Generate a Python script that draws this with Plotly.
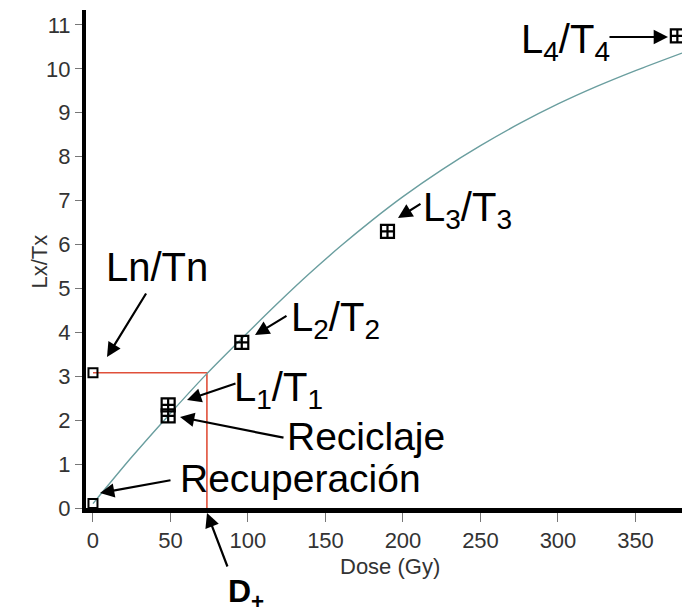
import plotly.graph_objects as go

# ---------------- data ----------------
curve_dose = [0, 25, 48, 73.5, 96, 120, 140, 160, 180, 200, 225, 250, 275, 300, 325, 350, 380]
curve_lxtx = [0.10, 1.16, 2.08, 3.06, 3.86, 4.69, 5.35, 5.97, 6.55, 7.09, 7.70, 8.25, 8.75, 9.20, 9.60, 9.96, 10.36]

regen_names = ["L1/T1", "Reciclaje", "L2/T2", "L3/T3", "L4/T4"]
regen_dose = [48.5, 48.5, 96, 190, 377]
regen_lxtx = [2.35, 2.10, 3.77, 6.30, 10.75]

small_names = ["Ln/Tn", "Recuperación"]
small_dose = [0, 0]
small_lxtx = [3.08, 0.10]

natural_lxtx = 3.08
equiv_dose = 73.5

x_ticks = [0, 50, 100, 150, 200, 250, 300, 350]
y_ticks = list(range(0, 12))

# ---------------- layout geometry ----------------
W, H = 682, 615
L, R, T, B = 86, 0, 10, 107
PW, PH = W - L - R, H - T - B


def pp(px, py):
    """pixel -> paper coords"""
    return (px - L) / PW, (H - B - py) / PH


fig = go.Figure()

# red construction lines (Ln/Tn -> curve -> dose axis)
fig.add_trace(go.Scatter(
    x=[small_dose[0], equiv_dose, equiv_dose],
    y=[natural_lxtx, natural_lxtx, 0],
    mode="lines", line=dict(color="#e0503a", width=1.6),
    hoverinfo="skip", showlegend=False, cliponaxis=False))

# fitted growth curve
fig.add_trace(go.Scatter(
    x=curve_dose, y=curve_lxtx, mode="lines",
    line=dict(color="#6a9e9f", width=1.4, shape="spline", smoothing=0.8),
    showlegend=False))

# regenerated points
fig.add_trace(go.Scatter(
    x=regen_dose, y=regen_lxtx, mode="markers", text=regen_names,
    marker=dict(symbol="square-cross-open", size=13, color="black",
                line=dict(color="black", width=2.2)),
    showlegend=False, cliponaxis=False))

# natural and recuperation points
fig.add_trace(go.Scatter(
    x=small_dose, y=small_lxtx, mode="markers", text=small_names,
    marker=dict(symbol="square-open", size=9, color="black",
                line=dict(color="black", width=2)),
    showlegend=False, cliponaxis=False))

FONT = "Liberation Sans, Arial, Helvetica, sans-serif"
annotations = []

# text labels
labels = [
    ("Ln/Tn", 157, 267, 40),
    ("L<sub>4</sub>/T<sub>4</sub>", 565, 42, 40),
    ("L<sub>3</sub>/T<sub>3</sub>", 467, 210, 40),
    ("L<sub>2</sub>/T<sub>2</sub>", 335, 320, 40),
    ("L<sub>1</sub>/T<sub>1</sub>", 278, 390, 40),
    ("Reciclaje", 366, 436, 39),
    ("Recuperación", 300, 478, 39),
]
for txt, px, py, sz in labels:
    xp, yp = pp(px, py)
    annotations.append(dict(text=txt, x=xp, y=yp, xref="paper", yref="paper",
                            showarrow=False, xanchor="center", yanchor="middle",
                            font=dict(family=FONT, size=sz, color="black")))

# D+ label
xp, yp = pp(246, 593)
annotations.append(dict(text="<b>D<sub>+</sub></b>", x=xp, y=yp, xref="paper", yref="paper",
                        showarrow=False, xanchor="center", yanchor="middle",
                        font=dict(family=FONT, size=32, color="black")))

# arrows: (head px, head py, tail px, tail py)
arrows = [
    (107, 357, 147, 292),
    (668, 37, 608, 37),
    (398, 218, 422, 203),
    (255, 335, 288, 315),
    (187, 400, 237, 383),
    (180, 417, 285, 438),
    (100, 493, 172, 480),
    (207, 513, 228, 568),
]
for hx, hy, tx, ty in arrows:
    xp, yp = pp(hx, hy)
    annotations.append(dict(text="", x=xp, y=yp, xref="paper", yref="paper",
                            ax=tx - hx, ay=ty - hy, showarrow=True,
                            arrowhead=2, arrowsize=1.3, arrowwidth=2.2,
                            arrowcolor="black"))

# axis titles
xp, yp = pp(390, 581)
annotations.append(dict(text="Dose (Gy)", x=xp, y=yp, xref="paper", yref="paper",
                        showarrow=False, font=dict(family=FONT, size=22, color="#333")))
xp, yp = pp(24, 262)
annotations.append(dict(text="Lx/Tx", x=xp, y=yp, xref="paper", yref="paper",
                        showarrow=False, textangle=-90,
                        font=dict(family=FONT, size=22, color="#333")))

fig.update_layout(
    width=W, height=H,
    margin=dict(l=L, r=R, t=T, b=B, pad=0),
    paper_bgcolor="white", plot_bgcolor="white",
    annotations=annotations,
    xaxis=dict(range=[-4.5, 380], tickvals=x_ticks, showgrid=False, zeroline=False,
               showline=True, linecolor="black", linewidth=5,
               ticks="outside", ticklen=9, tickcolor="#777", tickwidth=1,
               tickfont=dict(family=FONT, size=22, color="#333")),
    yaxis=dict(range=[0, 11.34], tickvals=y_ticks, showgrid=False, zeroline=False,
               showline=True, linecolor="black", linewidth=4,
               ticks="outside", ticklen=7, tickcolor="#777", tickwidth=1,
               tickfont=dict(family=FONT, size=22, color="#333")),
)

fig.write_html("out.html")
